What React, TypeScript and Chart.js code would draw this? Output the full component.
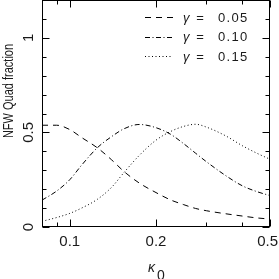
import React, { useEffect, useRef } from 'react';
import { Chart, registerables } from 'chart.js';

Chart.register(...registerables);

// kappa_0 sample positions (log axis)
const kappa = [0.08, 0.09, 0.1, 0.11, 0.125, 0.14, 0.155, 0.175, 0.2, 0.225, 0.25, 0.275, 0.3, 0.35, 0.4, 0.45, 0.5];
// NFW Quad fraction for each gamma
const gamma005 = [0.538, 0.538, 0.515, 0.473, 0.418, 0.355, 0.292, 0.232, 0.182, 0.143, 0.118, 0.098, 0.086, 0.07, 0.058, 0.048, 0.042];
const gamma010 = [0.142, 0.19, 0.25, 0.327, 0.42, 0.478, 0.52, 0.542, 0.525, 0.49, 0.44, 0.39, 0.345, 0.272, 0.218, 0.187, 0.166];
const gamma015 = [0.03, 0.05, 0.072, 0.1, 0.147, 0.21, 0.29, 0.379, 0.459, 0.505, 0.532, 0.543, 0.528, 0.482, 0.43, 0.39, 0.358];

const gammaLabels = ['0.05', '0.10', '0.15'];
const dashes = [[6, 5], [5, 2.5, 1, 2.5], [1, 2.5]];

const xMajorTicks = [0.1, 0.2, 0.5];
const xMinorTicks = [0.09, 0.3, 0.4];
const yMajorTicks = [0, 0.5, 1];
const yMinorTicks = [0.1, 0.2, 0.3, 0.4, 0.6, 0.7, 0.8, 0.9, 1.1];

const FONT = '"Liberation Sans", Arial, Helvetica, sans-serif';
const INK = '#1a1a1a';

const framePlugin = {
  id: 'frame',
  afterDraw(chart: any) {
    const ctx = chart.ctx as CanvasRenderingContext2D;
    const { left, right, top, bottom } = chart.chartArea;
    const xs = chart.scales.x;
    const ys = chart.scales.y;
    ctx.save();
    ctx.strokeStyle = '#000';
    ctx.lineWidth = 1;
    ctx.setLineDash([]);
    ctx.strokeRect(left + 0.5, top + 0.5, right - left - 1, bottom - top - 1);
    const xTick = (v: number, len: number) => {
      const px = Math.round(xs.getPixelForValue(v)) + 0.5;
      ctx.beginPath();
      ctx.moveTo(px, bottom - 0.5);
      ctx.lineTo(px, bottom - 0.5 - len);
      ctx.moveTo(px, top + 0.5);
      ctx.lineTo(px, top + 0.5 + len);
      ctx.stroke();
    };
    const yTick = (v: number, len: number) => {
      const py = Math.round(ys.getPixelForValue(v)) + 0.5;
      ctx.beginPath();
      ctx.moveTo(left + 0.5, py);
      ctx.lineTo(left + 0.5 + len, py);
      ctx.moveTo(right - 0.5, py);
      ctx.lineTo(right - 0.5 - len, py);
      ctx.stroke();
    };
    xMajorTicks.forEach((v) => xTick(v, 7));
    xMinorTicks.forEach((v) => xTick(v, 4));
    yMajorTicks.forEach((v) => yTick(v, 7));
    yMinorTicks.forEach((v) => yTick(v, 4));

    ctx.fillStyle = INK;
    // x tick labels
    ctx.font = `15px ${FONT}`;
    ctx.textAlign = 'center';
    ctx.textBaseline = 'alphabetic';
    xMajorTicks.forEach((v) => {
      const px = xs.getPixelForValue(v);
      const w = ctx.measureText(String(v)).width;
      const cx = Math.min(px, 279 - w / 2 - 1);
      ctx.fillText(String(v), cx, 246);
    });
    // y tick labels (rotated)
    yMajorTicks.forEach((v) => {
      const py = ys.getPixelForValue(v);
      ctx.save();
      ctx.translate(33, py);
      ctx.rotate(-Math.PI / 2);
      ctx.fillText(String(v), 0, 0);
      ctx.restore();
    });
    // y title
    ctx.save();
    ctx.font = `11px ${FONT}`;
    ctx.translate(12.5, 91);
    ctx.rotate(-Math.PI / 2);
    ctx.scale(1, 1.3);
    ctx.textAlign = 'center';
    ctx.fillText('NFW Quad fraction', 0, 0);
    ctx.restore();
    // x title kappa_0
    ctx.textAlign = 'left';
    ctx.font = `italic 14px ${FONT}`;
    ctx.fillText('κ', 148, 272);
    ctx.font = `14px ${FONT}`;
    ctx.fillText('0', 157, 279.5);

    // legend
    gammaLabels.forEach((lab, i) => {
      const base = 21.5 + i * 19.5;
      const ly = Math.round(base - 4.5) + 0.5;
      ctx.strokeStyle = '#000';
      ctx.setLineDash(dashes[i]);
      ctx.beginPath();
      ctx.moveTo(145, ly);
      ctx.lineTo(173, ly);
      ctx.stroke();
      ctx.setLineDash([]);
      ctx.font = `italic 13px ${FONT}`;
      ctx.textAlign = 'left';
      ctx.fillText('γ', 183, base);
      ctx.font = `13px ${FONT}`;
      ctx.textAlign = 'center';
      ctx.fillText('=', 200, base);
      ctx.textAlign = 'left';
      (ctx as any).letterSpacing = '1.3px';
      ctx.fillText(lab, 218, base);
      (ctx as any).letterSpacing = '0px';
    });
    ctx.restore();
  },
};

export default function App() {
  const ref = useRef<HTMLCanvasElement | null>(null);
  useEffect(() => {
    document.body.style.margin = '0';
    const canvas = ref.current;
    if (!canvas) return;
    const mk = (arr: number[], i: number) => ({
      label: `γ = ${gammaLabels[i]}`,
      data: kappa.map((k, j) => ({ x: k, y: arr[j] })),
      borderColor: '#000',
      borderWidth: 1,
      borderDash: dashes[i],
      pointRadius: 0,
      fill: false,
      cubicInterpolationMode: 'monotone' as const,
    });
    const chart = new Chart(canvas, {
      type: 'line',
      data: { datasets: [mk(gamma005, 0), mk(gamma010, 1), mk(gamma015, 2)] },
      options: {
        responsive: false,
        animation: false,
        devicePixelRatio: 1,
        layout: { padding: { left: 42, right: 9, top: 0, bottom: 52 } },
        scales: {
          x: { type: 'logarithmic', min: 0.08, max: 0.5, display: false },
          y: { type: 'linear', min: 0, max: 1.2, display: false },
        },
        plugins: { legend: { display: false }, tooltip: { enabled: false } },
      },
      plugins: [framePlugin],
    });
    return () => chart.destroy();
  }, []);
  return (
    <div style={{ width: 279, height: 279, background: '#fff' }}>
      <canvas ref={ref} width={279} height={279} style={{ display: 'block' }} />
    </div>
  );
}
